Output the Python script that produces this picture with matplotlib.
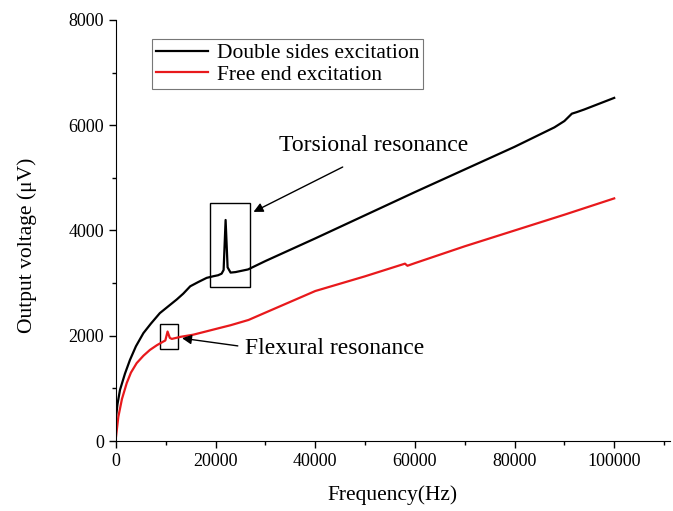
import matplotlib
matplotlib.use("Agg")
import matplotlib.pyplot as plt
from matplotlib.patches import Rectangle
from matplotlib.ticker import MultipleLocator

plt.rcParams['font.family'] = ['Liberation Serif', 'DejaVu Serif']

freq_black = [0, 300, 800, 1800, 2800, 4000, 5500, 7000, 8800, 10500, 12200, 13500,
              14900, 16500, 18200, 19500, 20500, 21200, 21600, 22000, 22400, 23000,
              24000, 26500, 30000, 40000, 50000, 60000, 70000, 80000, 88000, 90000,
              91500, 92500, 94000, 100000]
volt_black = [450, 700, 970, 1280, 1540, 1800, 2050, 2230, 2430, 2560, 2690, 2800,
              2940, 3020, 3100, 3130, 3150, 3180, 3250, 4200, 3300, 3200,
              3210, 3260, 3420, 3850, 4290, 4730, 5160, 5590, 5960, 6080,
              6220, 6250, 6300, 6520]

freq_red = [0, 470, 1200, 2150, 3000, 4150, 5500, 6800, 8200, 9500, 9900,
            10350, 10800, 11200, 13000, 15500, 18000, 20900, 23000, 26600, 30000,
            40000, 50000, 58000, 58500, 60000, 70000, 80000, 90000, 100000]
volt_red = [80, 460, 800, 1100, 1300, 1480, 1620, 1730, 1820, 1890, 1910,
            2080, 1960, 1940, 1980, 2020, 2080, 2150, 2200, 2300, 2440,
            2850, 3130, 3370, 3330, 3380, 3700, 4000, 4300, 4610]

labels = ["Double sides excitation", "Free end excitation"]

fig = plt.figure(figsize=(6.73, 5.11), dpi=100)
ax = fig.add_axes([116/673, 1-441/511, (670-116)/673, (441-20)/511])

ax.plot(freq_black, volt_black, color='black', lw=1.6, label=labels[0])
ax.plot(freq_red, volt_red, color='#e8191c', lw=1.6, label=labels[1])

ax.set_xlim(0, 111200)
ax.set_ylim(0, 8000)
ax.xaxis.set_major_locator(MultipleLocator(20000))
ax.xaxis.set_minor_locator(MultipleLocator(10000))
ax.yaxis.set_major_locator(MultipleLocator(2000))
ax.yaxis.set_minor_locator(MultipleLocator(1000))
ax.spines['top'].set_visible(False)
ax.spines['right'].set_visible(False)
ax.tick_params(which='major', direction='out', length=5, width=1, labelsize=13)
ax.tick_params(which='minor', direction='out', length=3, width=1)
ax.set_xlabel("Frequency(Hz)", fontsize=15.5, labelpad=11)
ax.set_ylabel("Output voltage (μV)", fontsize=15.5)
ax.yaxis.set_label_coords(-0.143, 0.466)

# boxes
ax.add_patch(Rectangle((18900, 2930), 8000, 1590, fill=False, ec='black', lw=1))
ax.add_patch(Rectangle((8800, 1740), 3650, 490, fill=False, ec='black', lw=1))

ax.text(32800, 5620, "Torsional resonance", fontsize=17, va='center', ha='left')
ax.annotate("", xy=(27100, 4330), xytext=(46000, 5230),
            arrowprops=dict(arrowstyle='-|>', color='black', lw=1, mutation_scale=14))
ax.text(25900, 1760, "Flexural resonance", fontsize=17, va='center', ha='left')
ax.annotate("", xy=(12700, 1960), xytext=(25000, 1800),
            arrowprops=dict(arrowstyle='-|>', color='black', lw=1, mutation_scale=14))

leg = ax.legend(loc='upper left', bbox_to_anchor=((152-116)/554, (441-39)/421),
                fontsize=15.5, frameon=True, fancybox=False, edgecolor='#555555',
                handlelength=2.4, borderpad=0.2, labelspacing=0.05, handletextpad=0.4,
                borderaxespad=0)
leg.get_frame().set_linewidth(0.8)

fig.savefig("out.png", dpi=100)
